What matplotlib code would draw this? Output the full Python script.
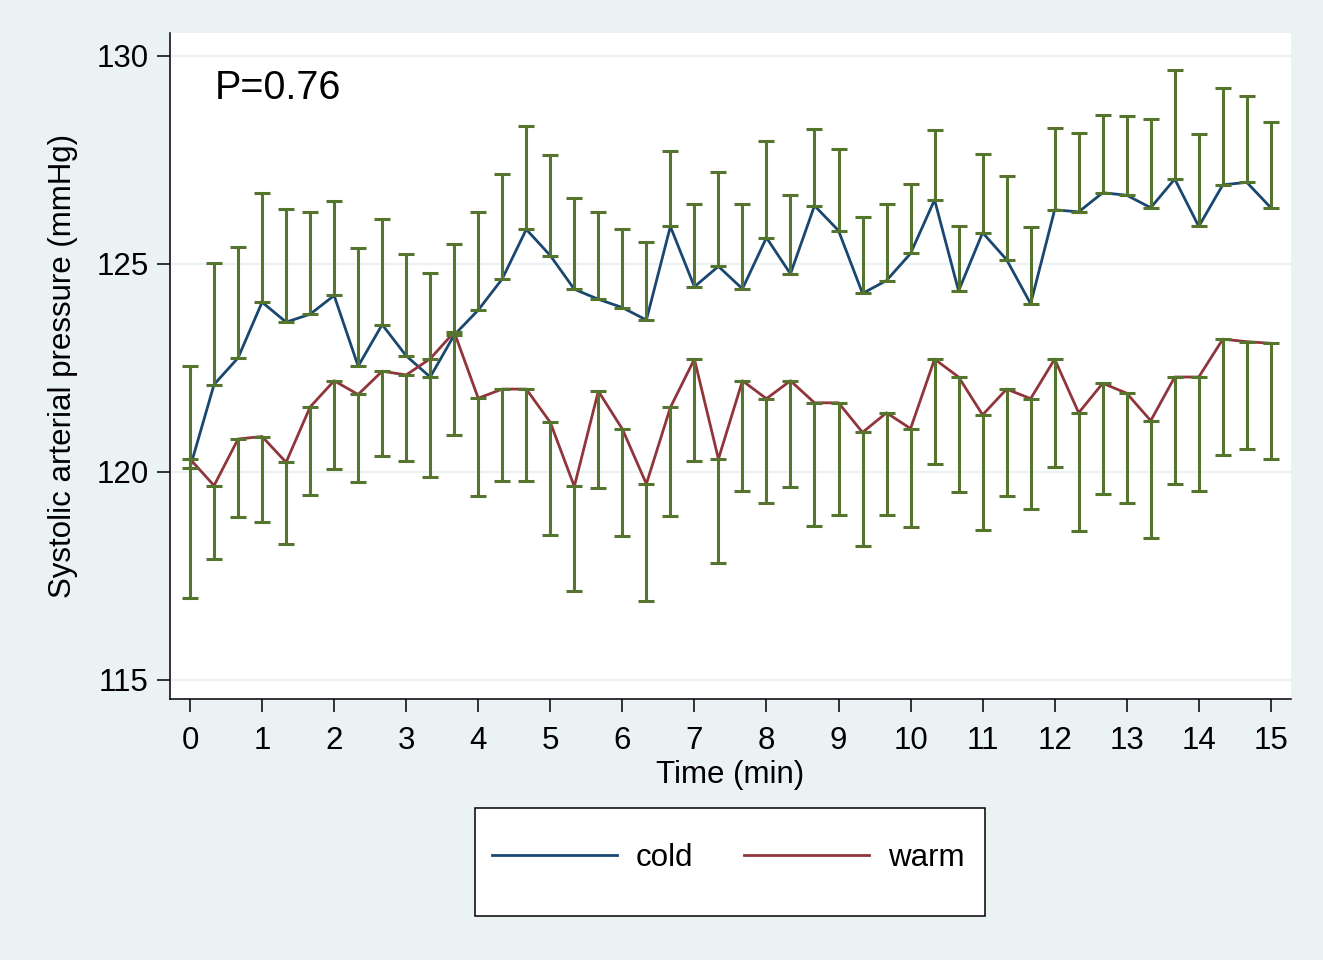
import numpy as np
import matplotlib.pyplot as plt
from matplotlib.patches import Rectangle

plt.rcParams['font.family'] = ['Liberation Sans', 'DejaVu Sans']

# time points in seconds (every 20 s)
time_sec = [0, 20, 40, 60, 80, 100, 120, 140, 160, 180, 200, 220, 240, 260, 280, 300,
            320, 340, 360, 380, 400, 420, 440, 460, 480, 500, 520, 540, 560, 580, 600,
            620, 640, 660, 680, 700, 720, 740, 760, 780, 800, 820, 840, 860, 880, 900]

cold_mean = [120.10, 122.10, 122.74, 124.08, 123.60, 123.79, 124.24, 122.54, 123.54, 122.79,
             122.28, 123.29, 123.89, 124.64, 125.83, 125.20, 124.39, 124.15, 123.95, 123.65,
             125.90, 124.45, 124.94, 124.40, 125.63, 124.76, 126.40, 125.80, 124.29, 124.60,
             125.25, 126.54, 124.35, 125.75, 125.10, 124.04, 126.30, 126.25, 126.71, 126.65,
             126.35, 127.04, 125.90, 126.90, 126.96, 126.35]
cold_upper = [122.55, 125.02, 125.41, 126.70, 126.32, 126.24, 126.50, 125.38, 126.08, 125.23,
              124.79, 125.47, 126.25, 127.16, 128.32, 127.61, 126.59, 126.24, 125.85, 125.52,
              127.71, 126.45, 127.22, 126.44, 127.95, 126.65, 128.24, 127.76, 126.12, 126.45,
              126.92, 128.23, 125.91, 127.63, 127.12, 125.88, 128.26, 128.14, 128.58, 128.56,
              128.49, 129.66, 128.13, 129.23, 129.04, 128.40]
warm_mean = [120.31, 119.67, 120.79, 120.85, 120.23, 121.56, 122.19, 121.86, 122.42, 122.33,
             122.72, 123.36, 121.77, 121.99, 121.99, 121.19, 119.65, 121.94, 121.03, 119.71,
             121.55, 122.71, 120.31, 122.19, 121.76, 122.19, 121.66, 121.66, 120.95, 121.42,
             121.04, 122.71, 122.28, 121.37, 121.99, 121.76, 122.71, 121.42, 122.13, 121.89,
             121.23, 122.28, 122.28, 123.19, 123.13, 123.09]
warm_lower = [116.97, 117.91, 118.92, 118.79, 118.26, 119.45, 120.06, 119.76, 120.38, 120.27,
              119.88, 120.88, 119.42, 119.79, 119.79, 118.49, 117.13, 119.62, 118.46, 116.90,
              118.93, 120.26, 117.81, 119.55, 119.26, 119.64, 118.71, 118.96, 118.21, 118.96,
              118.67, 120.19, 119.51, 118.60, 119.43, 119.11, 120.11, 118.58, 119.47, 119.24,
              118.42, 119.71, 119.54, 120.40, 120.54, 120.30]

x_ticks = list(range(0, 16))
y_ticks = [115, 120, 125, 130]

bg = '#eaf2f3'
navy = '#1a476f'
maroon = '#90353b'
green = '#55752f'

t = np.array(time_sec) / 60
cm, cu = np.array(cold_mean), np.array(cold_upper)
wm, wl = np.array(warm_mean), np.array(warm_lower)

fig = plt.figure(figsize=(13.23, 9.6), dpi=100, facecolor=bg)
ax = fig.add_axes([170/1323, 1-699/960, (1291-170)/1323, (699-33)/960])
ax.set_facecolor('white')

for yv in y_ticks:
    ax.axhline(yv, color=bg, lw=1.6, zorder=0)

ax.plot(t, cm, color=navy, lw=2.0, label='cold', zorder=2)
ax.plot(t, wm, color=maroon, lw=2.0, label='warm', zorder=2)

# one-sided bars: cold upward, warm downward
ax.errorbar(t, cm, yerr=[np.zeros_like(cm), cu - cm], fmt='none', ecolor=green,
            elinewidth=2.2, capsize=5.8, capthick=2.2, zorder=3)
ax.errorbar(t, wm, yerr=[wm - wl, np.zeros_like(wm)], fmt='none', ecolor=green,
            elinewidth=2.2, capsize=5.8, capthick=2.2, zorder=3)

ax.set_xlim(-0.278, 15.28)
ax.set_ylim(114.54, 130.55)
ax.set_xticks(x_ticks)
ax.set_yticks(y_ticks)
ax.tick_params(axis='both', direction='out', length=9.4, width=1.1, labelsize=22.5)
ax.tick_params(axis='x', pad=10)
ax.tick_params(axis='y', pad=6)
for s in ['top', 'right']:
    ax.spines[s].set_visible(False)
for s in ['left', 'bottom']:
    ax.spines[s].set_linewidth(1.1)

ax.set_xlabel('Time (min)', fontsize=22.5, labelpad=3)
ax.set_ylabel('Systolic arterial pressure (mmHg)', fontsize=22.5, labelpad=13)

ax.text(0.35, 129.22, 'P=0.76', fontsize=28.5, va='center', ha='left')

fig.patches.append(Rectangle((475/1323, 1-916/960), 510/1323, 108/960,
                             transform=fig.transFigure, facecolor='white',
                             edgecolor='black', lw=1.1, zorder=1))
fig.legend(loc='center', bbox_to_anchor=(728/1323, 1-858/960), ncol=2, frameon=False,
           fontsize=22.5, handlelength=4.0, handletextpad=0.62, columnspacing=1.6)

fig.savefig('out.png', dpi=100, facecolor=bg)
